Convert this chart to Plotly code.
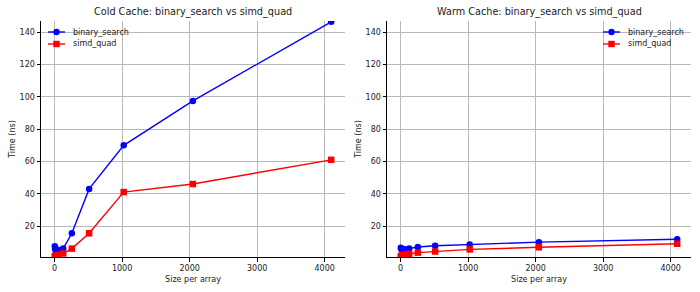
import plotly.graph_objects as go

sizes = [4, 8, 16, 32, 64, 128, 256, 512, 1024, 2048, 4096]
cold_binary = [7.5, 6.0, 5.0, 4.8, 5.2, 6.0, 15.5, 43.0, 70.0, 97.5, 146.5]
cold_simd = [1.2, 1.3, 1.5, 1.8, 2.0, 3.0, 6.0, 15.5, 41.0, 46.0, 61.0]
warm_binary = [6.5, 6.0, 5.5, 5.3, 5.6, 6.0, 7.0, 7.8, 8.5, 10.0, 11.8]
warm_simd = [1.0, 1.3, 1.6, 2.0, 2.3, 2.8, 3.5, 4.2, 5.5, 6.8, 9.0]
series_names = ["binary_search", "simd_quad"]
titles = ["Cold Cache: binary_search vs simd_quad", "Warm Cache: binary_search vs simd_quad"]

BLUE = "#0000ff"
RED = "#ff0000"
FONT = "DejaVu Sans"
W, H = 700, 292
FS = 8

fig = go.Figure()

def add(x, y, name, color, symbol, xa, ya):
    fig.add_trace(go.Scatter(
        x=x, y=y, name=name, mode="lines+markers",
        line=dict(color=color, width=1.4),
        marker=dict(color=color, symbol=symbol, size=6.5),
        xaxis=xa, yaxis=ya, showlegend=False))

add(sizes, cold_binary, series_names[0], BLUE, "circle", "x", "y")
add(sizes, cold_simd, series_names[1], RED, "square", "x", "y")
add(sizes, warm_binary, series_names[0], BLUE, "circle", "x2", "y2")
add(sizes, warm_simd, series_names[1], RED, "square", "x2", "y2")

ymin = 0.8
ymax = 147
xrng = [-200.6, 4300.6]

axis_common = dict(
    showgrid=True, gridcolor="#b8b8b8", gridwidth=0.8,
    showline=True, linecolor="black", linewidth=1,
    ticks="outside", ticklen=3.5, tickwidth=0.8, tickcolor="black",
    tickfont=dict(family=FONT, size=FS, color="#222222"),
    zeroline=False, mirror=False,
)

def px(x):
    return x / W

def py(y):
    return 1 - y / H

shapes = []
annotations = []
for lx in [48, 603]:
    for i, (name, color, kind) in enumerate(zip(series_names, [BLUE, RED], ["circle", "rect"])):
        yy = 32 + 12 * i
        shapes.append(dict(type="line", xref="paper", yref="paper",
                           x0=px(lx), x1=px(lx + 17), y0=py(yy), y1=py(yy),
                           line=dict(color=color, width=1.4)))
        cx = lx + 8.5
        r = 3.2
        shapes.append(dict(type=kind, xref="paper", yref="paper",
                           x0=px(cx - r), x1=px(cx + r), y0=py(yy + r), y1=py(yy - r),
                           fillcolor=color, line=dict(color=color, width=0)))
        annotations.append(dict(text=name, x=px(lx + 23), y=py(yy), xref="paper", yref="paper",
                                showarrow=False, xanchor="left", yanchor="middle",
                                font=dict(size=FS, family=FONT, color="#222222")))

for t, (a, b) in zip(titles, [(41, 345), (387, 691)]):
    annotations.append(dict(text=t, x=px((a + b) / 2), y=py(12), xref="paper", yref="paper",
                            showarrow=False, font=dict(size=9.7, family=FONT, color="#222222"),
                            xanchor="center", yanchor="middle"))

yd = [py(257), py(21)]
xtitle = dict(text="Size per array", font=dict(size=FS, color="#222222"), standoff=4)
ytitle = dict(text="Time (ns)", font=dict(size=FS, color="#222222"), standoff=2)
fig.update_layout(
    width=W, height=H,
    margin=dict(l=0, r=0, t=0, b=0),
    paper_bgcolor="white", plot_bgcolor="white",
    font=dict(family=FONT, size=FS, color="#222222"),
    showlegend=False,
    xaxis=dict(domain=[px(41), px(345)], range=xrng, tickvals=[0, 1000, 2000, 3000, 4000],
               title=xtitle, anchor="y", **axis_common),
    yaxis=dict(domain=yd, range=[ymin, ymax], tickvals=[20, 40, 60, 80, 100, 120, 140],
               title=ytitle, anchor="x", **axis_common),
    xaxis2=dict(domain=[px(387), px(691)], range=xrng, tickvals=[0, 1000, 2000, 3000, 4000],
                title=xtitle, anchor="y2", **axis_common),
    yaxis2=dict(domain=yd, range=[ymin, ymax], tickvals=[20, 40, 60, 80, 100, 120, 140],
                title=ytitle, anchor="x2", **axis_common),
    shapes=shapes,
    annotations=annotations,
)

fig.write_html("out.html")
